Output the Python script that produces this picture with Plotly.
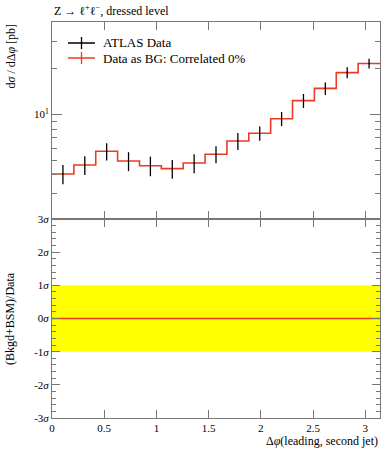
import numpy as np
import plotly.graph_objects as go
from plotly.subplots import make_subplots

# ---- data ----
bin_edges = np.linspace(0, np.pi, 16)
data_vals = [4.05, 4.64, 5.71, 4.93, 4.59, 4.39, 4.78, 5.46, 6.67, 7.5, 9.35, 12.3, 14.8, 18.8, 21.6]
data_errs = [0.58, 0.66, 0.74, 0.70, 0.68, 0.62, 0.68, 0.70, 0.86, 0.80, 1.0, 1.3, 1.4, 1.55, 1.6]
bg_vals = list(data_vals)           # "Data as BG" histogram identical to data
ratio_vals = [0.0] * 15             # deviation in sigma
band_lo, band_hi = -1.0, 1.0

legend_names = ["ATLAS Data", "Data as BG: Correlated 0%"]
x_ticks = [0, 0.5, 1, 1.5, 2, 2.5, 3]
x_ticktext = ["0", "0.5", "1", "1.5", "2", "2.5", "3"]
sig_ticks = [-3, -2, -1, 0, 1, 2, 3]
sig_text = ["-3<i>σ</i>", "-2<i>σ</i>", "-1<i>σ</i>", "0<i>σ</i>", "1<i>σ</i>", "2<i>σ</i>", "3<i>σ</i>"]

centers = 0.5 * (bin_edges[:-1] + bin_edges[1:])
step_x = list(bin_edges)
step_y = bg_vals + [bg_vals[-1]]
ratio_y = ratio_vals + [ratio_vals[-1]]

RED = "#ec3b24"
FRAME = "#777777"
FONT = "Liberation Serif"

fig = make_subplots(rows=2, cols=1, shared_xaxes=False, vertical_spacing=0,
                    row_heights=[0.4975, 0.5025])

# top panel
fig.add_trace(go.Scatter(x=step_x, y=step_y, mode="lines", line=dict(color=RED, width=1.6, shape="hv"),
                         showlegend=False, hoverinfo="skip"), row=1, col=1)
fig.add_trace(go.Scatter(x=centers, y=data_vals, mode="markers",
                         marker=dict(size=1, color="black"),
                         error_y=dict(type="data", array=data_errs, color="black", thickness=1.3, width=0),
                         showlegend=False), row=1, col=1)

# bottom panel
fig.add_trace(go.Scatter(x=[bin_edges[0], bin_edges[-1]], y=[band_lo, band_lo], mode="lines",
                         line=dict(width=0, color="yellow"), showlegend=False, hoverinfo="skip"), row=2, col=1)
fig.add_trace(go.Scatter(x=[bin_edges[0], bin_edges[-1]], y=[band_hi, band_hi], mode="lines",
                         line=dict(width=0, color="yellow"), fill="tonexty", fillcolor="#ffff00",
                         showlegend=False, hoverinfo="skip"), row=2, col=1)
fig.add_trace(go.Scatter(x=step_x, y=ratio_y, mode="lines", line=dict(color=RED, width=1.6, shape="hv"),
                         showlegend=False, hoverinfo="skip"), row=2, col=1)

axis_common = dict(showline=True, linecolor=FRAME, linewidth=1, mirror="allticks", ticks="inside",
                   tickcolor=FRAME, showgrid=False, zeroline=False,
                   tickfont=dict(family=FONT, size=11, color="black"))

fig.update_xaxes(range=[0, np.pi], tickvals=x_ticks, ticktext=x_ticktext, ticklen=8, **axis_common)
fig.update_xaxes(showticklabels=False, row=1, col=1)

fig.update_yaxes(type="log", range=[0.311, 1.607], tickvals=[10], ticktext=["10<sup>1</sup>"], ticklen=10,
                 minor=dict(tickvals=[3, 4, 5, 6, 7, 8, 9, 20, 30], ticklen=5, tickcolor=FRAME, ticks="inside"),
                 row=1, col=1, **axis_common)
fig.update_yaxes(range=[-3, 3], tickvals=sig_ticks, ticktext=sig_text, ticklen=8,
                 minor=dict(dtick=0.2, ticklen=4, tickcolor=FRAME, ticks="inside"),
                 row=2, col=1, **axis_common)

# custom legend (paper coordinates)
PW, PH = 328.0, 396.0
leg_x0, leg_x1 = 16 / PW, 43 / PW
leg_rows = [(418 - 43) / PH, (418 - 58) / PH]
leg_cols = ["black", RED]
tick_h = 6 / PH
shapes = []
annotations = []
for name, yy, col in zip(legend_names, leg_rows, leg_cols):
    shapes.append(dict(type="line", xref="paper", yref="paper", x0=leg_x0, x1=leg_x1, y0=yy, y1=yy,
                       line=dict(color=col, width=1.5)))
    xm = 0.5 * (leg_x0 + leg_x1)
    shapes.append(dict(type="line", xref="paper", yref="paper", x0=xm, x1=xm, y0=yy - tick_h, y1=yy + tick_h,
                       line=dict(color=col, width=1.3)))
    annotations.append(dict(text=name, xref="paper", yref="paper", x=49 / PW, y=yy, xanchor="left",
                            yanchor="middle", showarrow=False, font=dict(family=FONT, size=13)))

annotations += [
    dict(text="Z → ℓ<sup>+</sup>ℓ<sup>−</sup>, dressed level", xref="paper", yref="paper",
         x=0, y=1.0, xanchor="left", yanchor="bottom", yshift=2, showarrow=False,
         font=dict(family=FONT, size=12)),
    dict(text="d<i>σ</i> / dΔ<i>φ</i> [pb]", xref="paper", yref="paper", x=0, xshift=-42,
         y=1.0, yanchor="top", xanchor="center", textangle=-90, showarrow=False,
         font=dict(family=FONT, size=12)),
    dict(text="(Bkgd+BSM)/Data", xref="paper", yref="paper", x=0, xshift=-42,
         y=0.25, yanchor="middle", xanchor="center", textangle=-90, showarrow=False,
         font=dict(family=FONT, size=12)),
    dict(text="Δ<i>φ</i>(leading, second jet)", xref="paper", yref="paper", x=1, y=0,
         xanchor="right", yanchor="top", yshift=-14, showarrow=False,
         font=dict(family=FONT, size=12)),
]

fig.update_layout(
    width=392, height=450,
    margin=dict(l=52, r=12, t=22, b=32),
    paper_bgcolor="white", plot_bgcolor="white",
    font=dict(family=FONT, size=12, color="black"),
    showlegend=False,
    shapes=shapes,
    annotations=annotations,
)

fig.write_html("out.html", config={"displayModeBar": False},
               post_script="document.body.style.margin='0';document.body.style.overflow='hidden';")
